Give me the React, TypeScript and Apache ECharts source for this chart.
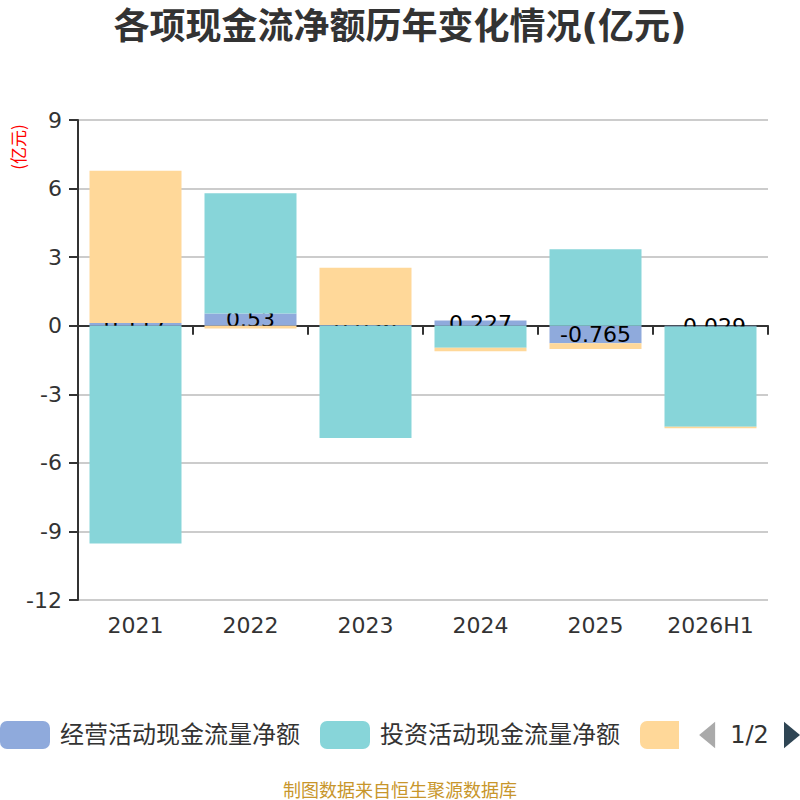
import React, { useEffect, useRef } from 'react';
import * as echarts from 'echarts';

const categories = ['2021', '2022', '2023', '2024', '2025', '2026H1'];
const operating = [0.117, 0.53, 0.036, 0.227, -0.765, -0.029];
const investing = [-9.53, 5.27, -4.91, -0.96, 3.35, -4.39];
const financing = [6.66, -0.12, 2.5, -0.16, -0.255, -0.07];
const seriesNames = ['经营活动现金流量净额', '投资活动现金流量净额', '筹资活动现金流量净额'];
const seriesColors = ['#8FAADC', '#87D5D9', '#FFD899'];
const yMin = -12;
const yMax = 9;
const yInterval = 3;
const titleText = '各项现金流净额历年变化情况(亿元)';
const unitText = '(亿元)';
const footerText = '制图数据来自恒生聚源数据库';

export default function App() {
  const ref = useRef<HTMLDivElement>(null);
  useEffect(() => {
    if (!ref.current) return;
    const chart = echarts.init(ref.current, undefined, { renderer: 'svg' });
    const values = [operating, investing, financing];
    chart.setOption({
      animation: false,
      backgroundColor: '#fff',
      textStyle: { fontFamily: '"DejaVu Sans", "Noto Sans CJK SC", sans-serif' },
      title: {
        text: titleText,
        left: 'center',
        top: 3,
        textStyle: { fontSize: 36, fontWeight: 'bold', color: '#333' },
      },
      grid: { left: 78, right: 32, top: 120, bottom: 200 },
      legend: {
        type: 'scroll',
        left: 0,
        right: 0,
        top: 721,
        padding: 0,
        itemWidth: 50,
        itemHeight: 28,
        itemGap: 20,
        icon: 'roundRect',
        textStyle: { fontSize: 24, color: '#333', padding: [0, 0, 0, 5] },
        pageIconColor: '#2f4554',
        pageIconInactiveColor: '#aaa',
        pageIconSize: [16, 28],
        pageButtonItemGap: 2,
        pageTextStyle: { fontSize: 24, color: '#333' },
        data: seriesNames,
      },
      xAxis: [
        {
          type: 'category',
          data: categories,
          position: 'bottom',
          axisLine: { show: false, onZero: false },
          axisTick: { show: false },
          axisLabel: { fontSize: 22, color: '#333', margin: 14 },
        },
        {
          type: 'category',
          data: categories,
          position: 'bottom',
          axisLine: { show: true, onZero: true, lineStyle: { color: '#333', width: 2 } },
          axisTick: { show: true, length: 9, lineStyle: { color: '#333', width: 2 } },
          axisLabel: { show: false },
          splitLine: { show: false },
        },
      ],
      yAxis: {
        type: 'value',
        min: yMin,
        max: yMax,
        interval: yInterval,
        axisLine: { show: true, lineStyle: { color: '#333', width: 2 } },
        axisTick: { show: true, length: 9, lineStyle: { color: '#333', width: 2 } },
        axisLabel: { fontSize: 22, color: '#333', margin: 16 },
        splitLine: { show: true, lineStyle: { color: '#ccc', width: 2 } },
      },
      graphic: [
        {
          type: 'text',
          x: 17,
          y: 147,
          rotation: Math.PI / 2,
          style: {
            text: unitText,
            fill: '#f00',
            fontSize: 17,
            align: 'center',
            verticalAlign: 'middle',
            fontFamily: '"Noto Sans CJK SC", sans-serif',
          },
        },
        {
          type: 'text',
          x: 400,
          y: 789,
          style: {
            text: footerText,
            fill: '#C8962B',
            fontSize: 18,
            align: 'center',
            verticalAlign: 'middle',
            fontFamily: '"Noto Sans CJK SC", sans-serif',
          },
        },
      ],
      series: seriesNames.map((name, i) => ({
        name,
        type: 'bar',
        stack: 'total',
        xAxisIndex: 0,
        barWidth: '80%',
        z: i === 0 ? 2 : 3,
        itemStyle: { color: seriesColors[i] },
        label:
          i === 0
            ? {
                show: true,
                position: 'inside',
                color: '#000',
                fontSize: 22,
                formatter: (p: any) => String(p.value),
              }
            : { show: false },
        data: values[i],
      })),
    });
    return () => chart.dispose();
  }, []);
  return (
    <div
      ref={ref}
      style={{ position: 'fixed', left: 0, top: 0, width: 800, height: 800 }}
    />
  );
}
